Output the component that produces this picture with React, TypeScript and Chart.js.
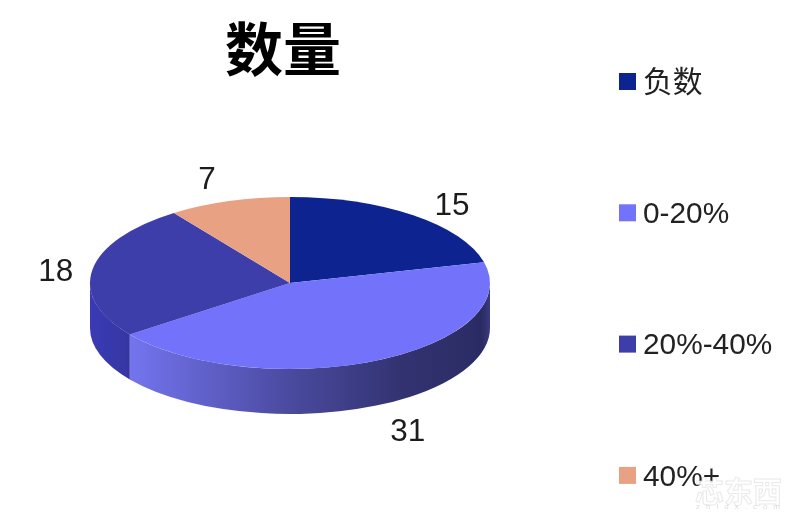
import React, { useEffect, useRef } from "react";
import { Chart, registerables } from "chart.js";

Chart.register(...registerables);

const titleText = "数量";
const categories = ["负数", "0-20%", "20%-40%", "40%+"];
const counts = [15, 31, 18, 7];
const sliceColors = ["#0d2490", "#7272fb", "#3e3eaa", "#e9a184"];

const SQUASH = 0.43;
const DEPTH = 45;
const CJK = '"Liberation Sans", "Noto Sans CJK SC", sans-serif';
const labelGapX = [63, 75, 37, 72];
const labelGapY = [14, 27, -2, 24];
const wallStops: [number, string][][] = [
  [[0, "#0d2490"], [1, "#0d2490"]],
  [[0.1, "#7474ee"], [0.3, "#5f5fc8"], [0.5, "#4a4a9f"], [0.775, "#333372"], [0.98, "#2b2b64"], [1, "#3a3a80"]],
  [[0, "#3a3ab6"], [0.1, "#3636a2"], [1, "#3636a2"]],
  [[0, "#e9a184"], [1, "#e9a184"]],
];

const pie3d = {
  id: "pie3d",
  afterLayout(chart: any) {
    // the title sits a little left of the pie's centre
    chart.titleBlock.right -= 14;
  },
  beforeDatasetsDraw(chart: any) {
    const ctx = chart.ctx;
    const arcs = chart.getDatasetMeta(0).data;
    arcs.forEach((el: any, i: number) => {
      const { x, y, outerRadius: R, startAngle, endAngle } = el;
      const a0 = Math.max(startAngle, 0);
      const a1 = Math.min(endAngle, Math.PI);
      if (a0 >= a1) return;
      const g = ctx.createLinearGradient(x - R, 0, x + R, 0);
      wallStops[i].forEach(([t, c]) => g.addColorStop(t, c));
      ctx.beginPath();
      ctx.ellipse(x, y, R, R * SQUASH, 0, a0, a1);
      ctx.ellipse(x, y + DEPTH, R, R * SQUASH, 0, a1, a0, true);
      ctx.closePath();
      ctx.fillStyle = g;
      ctx.fill();
    });
    const { x, y } = arcs[0];
    ctx.save();
    ctx.translate(x, y);
    ctx.scale(1, SQUASH);
    ctx.translate(-x, -y);
  },
  afterDatasetsDraw(chart: any) {
    const ctx = chart.ctx;
    ctx.restore();
    ctx.save();
    // value labels
    ctx.font = '31.5px "Liberation Sans", sans-serif';
    ctx.fillStyle = "#1c1c1c";
    ctx.textAlign = "center";
    ctx.textBaseline = "middle";
    chart.getDatasetMeta(0).data.forEach((el: any, i: number) => {
      const mid = (el.startAngle + el.endAngle) / 2;
      const sin = Math.sin(mid);
      const lx = el.x + (el.outerRadius + labelGapX[i]) * Math.cos(mid);
      const ly = el.y + (el.outerRadius * SQUASH + labelGapY[i]) * sin + (sin > 0 ? DEPTH : 0);
      ctx.fillText(String(counts[i]), lx, ly + 2);
    });
    // legend
    const legendX = 619;
    const legendTop = 81;
    const legendStep = 131.3;
    ctx.textAlign = "left";
    ctx.font = `29.8px ${CJK}`;
    categories.forEach((name, i) => {
      const cy = legendTop + i * legendStep;
      ctx.fillStyle = sliceColors[i];
      ctx.fillRect(legendX, cy - 8, 17, 17);
      ctx.fillStyle = "#222222";
      ctx.fillText(name, legendX + 24, cy + 2.5);
    });
    // watermark
    ctx.font = 'bold 29px "Noto Sans CJK SC", sans-serif';
    ctx.lineWidth = 1;
    ctx.strokeStyle = "rgba(215,215,215,0.55)";
    ctx.fillStyle = "rgba(255,255,255,0.85)";
    ctx.fillText("芯东西", 695, 492);
    ctx.strokeText("芯东西", 695, 492);
    ctx.font = '8px "Liberation Sans", sans-serif';
    (ctx as any).letterSpacing = "6px";
    ctx.fillStyle = "#dcdcdc";
    ctx.fillText("zhidx.com", 696, 507);
    ctx.restore();
  },
};

export default function App() {
  const ref = useRef<HTMLCanvasElement>(null);
  useEffect(() => {
    const chart = new Chart(ref.current!, {
      type: "pie",
      data: {
        labels: categories,
        datasets: [{ data: counts, backgroundColor: sliceColors, borderWidth: 0 }],
      },
      options: {
        animation: false,
        responsive: false,
        layout: { padding: { left: 90, right: 310, top: 0, bottom: 43 } },
        plugins: {
          legend: { display: false },
          tooltip: { enabled: false },
          title: {
            display: true,
            text: titleText,
            color: "#000000",
            font: { size: 58, weight: "bold", family: '"Noto Sans CJK SC", sans-serif', lineHeight: 1.15 },
            padding: { top: 16, bottom: 0.3 },
          },
        },
      },
      plugins: [pie3d],
    });
    return () => chart.destroy();
  }, []);
  return (
    <div style={{ position: "absolute", left: 0, top: 0, width: 800, height: 526, background: "#ffffff" }}>
      <canvas ref={ref} width={800} height={526} style={{ display: "block" }} />
    </div>
  );
}
